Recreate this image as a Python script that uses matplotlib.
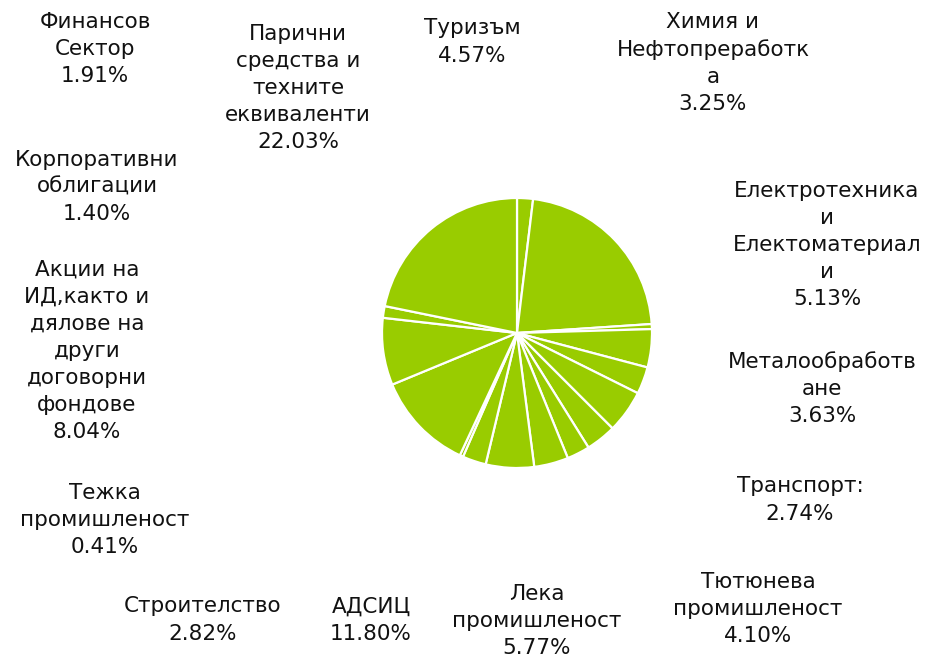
import matplotlib.pyplot as plt

# стойности на секторите, по часовниковата стрелка от върха
slice_names = ["Финансов Сектор", "Парични средства и техните еквиваленти", "",
               "Туризъм", "Химия и Нефтопреработка", "Електротехника и Електоматериали",
               "Металообработване", "Транспорт", "Тютюнева промишленост",
               "Лека промишленост", "Строителство", "Тежка промишленост", "АДСИЦ",
               "Акции на ИД", "Корпоративни облигации", ""]
slice_values = [1.91, 22.03, 0.60, 4.57, 3.25, 5.13, 3.63, 2.74, 4.10,
                5.77, 2.82, 0.41, 11.80, 8.04, 1.40, 21.80]

# надписи така, както са в картинката (ръчно пренесени редове)
label_texts = [
    "Финансов\nСектор\n1.91%",
    "Парични\nсредства и\nтехните\nеквиваленти\n22.03%",
    "Туризъм\n4.57%",
    "Химия и\nНефтопреработк\nа\n3.25%",
    "Електротехника\nи\nЕлектоматериал\nи\n5.13%",
    "Металообработв\nане\n3.63%",
    "Транспорт:\n2.74%",
    "Тютюнева\nпромишленост\n4.10%",
    "Лека\nпромишленост\n5.77%",
    "АДСИЦ\n11.80%",
    "Строителство\n2.82%",
    "Тежка\nпромишленост\n0.41%",
    "Акции на\nИД,както и\nдялове на\nдруги\nдоговорни\nфондове\n8.04%",
    "Корпоративни\nоблигации\n1.40%",
]
# центрове на надписите в пиксели (x, y от горния ляв ъгъл)
label_pos = [(95, 49), (298, 88), (472, 42), (713, 63), (827, 245), (822, 389),
             (800, 500), (758, 609), (537, 621), (371, 620), (203, 620),
             (105, 520), (87, 351), (97, 187)]

W, H = 929, 659
fig = plt.figure(figsize=(W / 100, H / 100), dpi=100)

# кръгът: център (517, 333), радиус ~135 px
cx, cy, r = 517, 333, 135
ax = fig.add_axes([(cx - r) / W, 1 - (cy + r) / H, 2 * r / W, 2 * r / H])
ax.pie(slice_values, startangle=90, counterclock=False, colors=["#99CC00"],
       wedgeprops=dict(edgecolor="white", linewidth=1.6))
ax.set_xlim(-1, 1)
ax.set_ylim(-1, 1)
ax.set_aspect("equal")

for txt, (x, y) in zip(label_texts, label_pos):
    fig.text(x / W, 1 - y / H, txt, ha="center", va="center", fontsize=15.5,
             color="#111111", linespacing=1.44, family="DejaVu Sans")

fig.savefig("out.png", dpi=100)
